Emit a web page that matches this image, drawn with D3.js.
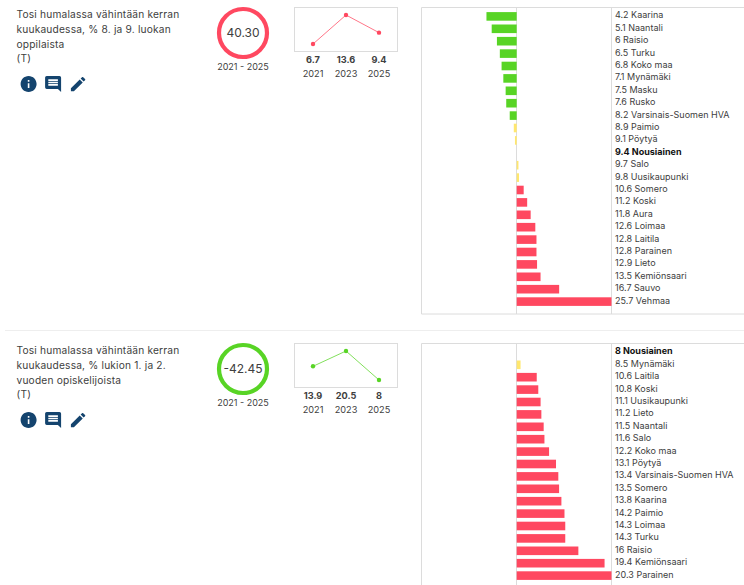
<!DOCTYPE html>
<html><head><meta charset="utf-8">
<script src="https://cdn.jsdelivr.net/npm/d3@7"></script>
<style>html,body{margin:0;padding:0;background:#fff;overflow:hidden}svg{display:block}text{font-family:Inter,"Open Sans",sans-serif;fill:#404040}</style>
</head><body><svg id="c" width="744" height="585"></svg>
<script>
const titles1=["Tosi humalassa vähintään kerran","kuukaudessa, % 8. ja 9. luokan","oppilaista","(T)"];
const titles2=["Tosi humalassa vähintään kerran","kuukaudessa, % lukion 1. ja 2.","vuoden opiskelijoista","(T)"];
const change1="40.30", change2="-42.45", period="2021 - 2025";
const years=["2021","2023","2025"];
const trend1=[6.7,13.6,9.4], trend2=[13.9,20.5,8];
const names1=["Kaarina","Naantali","Raisio","Turku","Koko maa","Mynämäki","Masku","Rusko","Varsinais-Suomen HVA","Paimio","Pöytyä","Nousiainen","Salo","Uusikaupunki","Somero","Koski","Aura","Loimaa","Laitila","Parainen","Lieto","Kemiönsaari","Sauvo","Vehmaa"];
const values1=[4.2,5.1,6,6.5,6.8,7.1,7.5,7.6,8.2,8.9,9.1,9.4,9.7,9.8,10.6,11.2,11.8,12.6,12.8,12.8,12.9,13.5,16.7,25.7];
const names2=["Nousiainen","Mynämäki","Laitila","Koski","Uusikaupunki","Lieto","Naantali","Salo","Koko maa","Pöytyä","Varsinais-Suomen HVA","Somero","Kaarina","Paimio","Loimaa","Turku","Raisio","Kemiönsaari","Parainen"];
const values2=[8,8.5,10.6,10.8,11.1,11.2,11.5,11.6,12.2,13.1,13.4,13.5,13.8,14.2,14.3,14.3,16,19.4,20.3];
const RED="#ff4860",GREEN="#58d425",YELLOW="#ffe76e",BORDER="#dcdcdc",ICON="#14446e";
const ICONS=["M12 2C6.48 2 2 6.48 2 12s4.48 10 10 10 10-4.48 10-10S17.52 2 12 2zm1 15h-2v-6h2v6zm0-8h-2V7h2v2z","M21.99 4c0-1.1-.89-2-1.99-2H4c-1.1 0-2 .9-2 2v12c0 1.1.9 2 2 2h14l4 4-.01-18zM18 14H6v-2h12v2zm0-3H6V9h12v2zm0-3H6V6h12v2z","M3 17.25V21h3.75L17.81 9.94l-3.75-3.75L3 17.25zM20.71 7.04c.39-.39.39-1.02 0-1.41l-2.34-2.34c-.39-.39-1.02-.39-1.41 0l-1.83 1.83 3.75 3.75 1.83-1.83z"];
const svg=d3.select("#c");
function block(top,titles,change,trend,names,values,home,color,panelBottom){
  const g=svg.append("g").attr("transform",`translate(0,${top})`);
  g.selectAll("text.t").data(titles).join("text").attr("class","t").attr("x",16.5).attr("y",(d,i)=>18.3+i*14.7).style("font-size","10.2px").style("letter-spacing",".18px").text(d=>d);
  [28.5,53,78].forEach((x,i)=>g.append("path").attr("d",ICONS[i]).attr("fill",ICON).attr("transform",`translate(${x-9.5},${74.5}) scale(.8)`));
  g.append("circle").attr("cx",243).attr("cy",33).attr("r",24).attr("fill","none").attr("stroke",color).attr("stroke-width",4.2);
  g.append("text").attr("x",243).attr("y",37.3).attr("text-anchor","middle").style("font-size","12px").text(change);
  g.append("text").attr("x",243).attr("y",69.5).attr("text-anchor","middle").style("font-size","9px").text(period);
  // sparkline
  g.append("rect").attr("x",294.5).attr("y",7.5).attr("width",103).attr("height",44).attr("fill","#fff").attr("stroke",BORDER);
  const sx=d3.scalePoint().domain(years).range([313,379]);
  const sy=d3.scaleLinear().domain(d3.extent(trend)).range([44,15]);
  g.append("path").attr("d",d3.line().x((d,i)=>sx(years[i])).y(d=>sy(d))(trend)).attr("fill","none").attr("stroke",color).attr("stroke-opacity",.75).attr("stroke-width",1);
  g.selectAll("circle.p").data(trend).join("circle").attr("class","p").attr("cx",(d,i)=>sx(years[i])).attr("cy",d=>sy(d)).attr("r",2.2).attr("fill",color);
  g.selectAll("text.v").data(trend).join("text").attr("class","v").attr("x",(d,i)=>sx(years[i])).attr("y",62.5).attr("text-anchor","middle").style("font-size","9.2px").style("font-weight","700").text(d=>d);
  g.selectAll("text.y").data(years).join("text").attr("class","y").attr("x",d=>sx(d)).attr("y",77).attr("text-anchor","middle").style("font-size","9.2px").text(d=>d);
  // ranking
  const x=d3.scaleLinear().domain([home,d3.max(values)]).range([516.7,611.5]);
  const y=d3.scaleBand().domain(names).range([9,9+names.length*12.4]);
  const barH=8.6;
  g.append("path").attr("d",`M744 7.5H421.5V${panelBottom}H744`).attr("fill","none").attr("stroke",BORDER).attr("stroke-width",1);
  [516.5,611.5].forEach(px=>g.append("line").attr("x1",px).attr("x2",px).attr("y1",8).attr("y2",panelBottom).attr("stroke",BORDER));
  const col=v=>{const d=v-home;return d<=-1?GREEN:d>=.75?RED:YELLOW;};
  g.selectAll("rect.b").data(values).join("rect").attr("class","b")
    .attr("x",d=>Math.min(x(d),x(home))).attr("width",d=>Math.abs(x(d)-x(home)))
    .attr("y",(d,i)=>y(names[i])+y.bandwidth()/2-barH/2+1.2).attr("height",barH).attr("fill",d=>col(d));
  g.selectAll("text.n").data(values).join("text").attr("class","n").attr("x",615).attr("y",(d,i)=>y(names[i])+y.bandwidth()/2+3.2)
    .style("font-size","9px").style("font-weight",d=>d===home?"700":"400").style("fill",d=>d===home?"#111":null)
    .text((d,i)=>d+" "+names[i]);
}
block(0,titles1,change1,trend1,names1,values1,9.4,RED,314);
svg.append("line").attr("x1",5).attr("x2",744).attr("y1",330.5).attr("y2",330.5).attr("stroke","#eeeeee");
block(336,titles2,change2,trend2,names2,values2,8,GREEN,262);
</script></body></html>
